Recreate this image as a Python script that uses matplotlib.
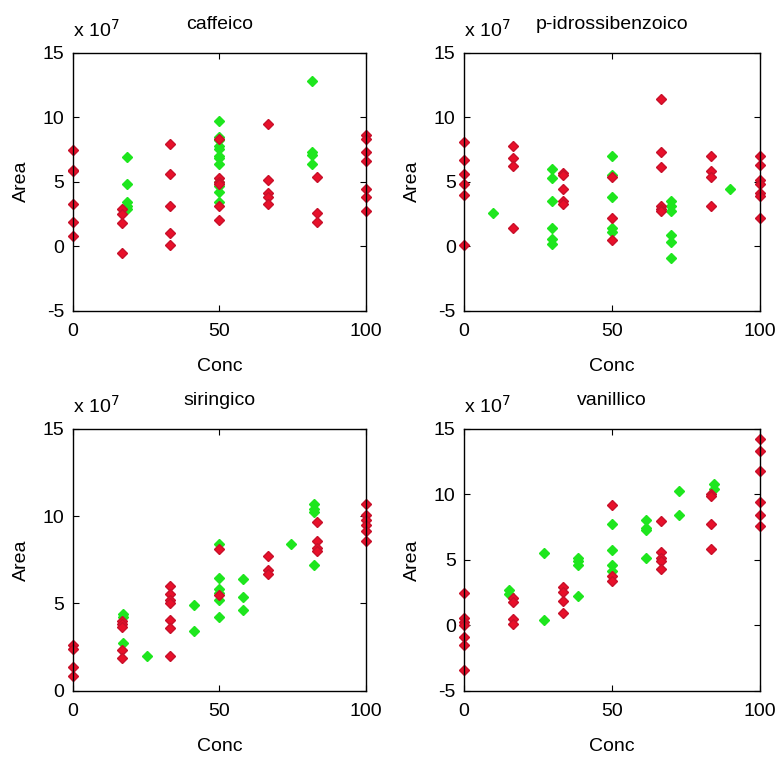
import numpy as np
import matplotlib
matplotlib.use("Agg")
import matplotlib.pyplot as plt

plt.rcParams['font.family'] = ['Liberation Sans', 'DejaVu Sans']
plt.rcParams['axes.unicode_minus'] = False

# valori di area (in unita' di 1e7) per ciascun acido, serie rossa e verde
titoli = ["caffeico", "p-idrossibenzoico", "siringico", "vanillico"]

caffeico_rosso_x = [0]*6 + [16.7]*4 + [33.3]*5 + [50]*6 + [66.7]*5 + [83.3]*3 + [100]*7
caffeico_rosso_y = [7.45, 5.9, 5.8, 3.3, 1.85, 0.8,
                    2.9, 2.5, 1.8, -0.5,
                    7.9, 5.6, 3.1, 1.0, 0.1,
                    8.3, 5.3, 5.0, 4.8, 3.1, 2.0,
                    9.5, 5.1, 4.1, 3.8, 3.3,
                    5.4, 2.6, 1.85,
                    8.6, 8.3, 7.3, 6.6, 4.4, 3.8, 2.75]
caffeico_verde_x = [18.6]*5 + [50]*12 + [81.7]*4
caffeico_verde_y = [6.9, 4.8, 3.4, 3.1, 2.85,
                    9.7, 8.5, 8.2, 7.8, 7.5, 7.0, 6.8, 6.4, 5.0, 4.7, 4.2, 3.4,
                    12.8, 7.3, 7.1, 6.4]

idross_rosso_x = [0]*6 + [16.7]*4 + [33.3]*5 + [50]*3 + [66.7]*6 + [83.3]*4 + [100]*7
idross_rosso_y = [8.1, 6.7, 5.6, 4.8, 4.0, 0.1,
                  7.8, 6.8, 6.2, 1.4,
                  5.7, 5.5, 4.4, 3.5, 3.3,
                  5.4, 2.2, 0.5,
                  11.4, 7.3, 6.1, 3.1, 2.9, 2.7,
                  7.0, 5.8, 5.4, 3.1,
                  7.0, 6.3, 5.1, 4.8, 4.1, 3.9, 2.2]
idross_verde_x = [9.7] + [29.9]*6 + [50]*5 + [69.8]*6 + [89.8]
idross_verde_y = [2.6,
                  6.0, 5.3, 3.5, 1.4, 0.55, 0.15,
                  7.0, 5.5, 3.8, 1.4, 1.1,
                  3.5, 3.1, 2.7, 0.85, 0.3, -0.9,
                  4.4]

siring_rosso_x = [0]*4 + [16.7]*5 + [33.3]*7 + [50]*2 + [66.7]*3 + [83.3]*4 + [100]*6
siring_rosso_y = [2.6, 2.4, 1.35, 0.83,
                  4.0, 3.8, 3.65, 2.3, 1.85,
                  6.0, 5.55, 5.2, 5.0, 4.05, 3.6, 2.0,
                  8.1, 5.5,
                  7.7, 6.9, 6.7,
                  9.65, 8.6, 8.15, 8.0,
                  10.7, 10.05, 9.8, 9.5, 9.15, 8.6]
siring_verde_x = [17]*3 + [25.4] + [41.4]*2 + [50]*6 + [58.2]*3 + [74.5] + [82.4]*4
siring_verde_y = [4.4, 4.2, 2.7,
                  2.0,
                  4.9, 3.4,
                  8.4, 6.45, 5.8, 5.6, 5.2, 4.2,
                  6.4, 5.35, 4.6,
                  8.4,
                  10.7, 10.4, 10.25, 7.2]

vanil_rosso_x = [0]*7 + [16.7]*4 + [33.3]*4 + [50]*3 + [66.7]*5 + [83.3]*4 + [100]*6
vanil_rosso_y = [2.45, 0.57, 0.23, 0.0, -0.9, -1.5, -3.4,
                 2.05, 1.75, 0.45, 0.1,
                 2.95, 2.5, 1.85, 0.95,
                 9.2, 3.75, 3.35,
                 7.95, 5.6, 5.15, 4.9, 4.3,
                 10.05, 9.85, 7.75, 5.85,
                 14.2, 13.35, 11.75, 9.4, 8.4, 7.6]
vanil_verde_x = [15.1]*2 + [27.2]*2 + [38.4]*4 + [50]*4 + [61.4]*4 + [72.7]*2 + [84.4]*2
vanil_verde_y = [2.65, 2.4,
                 5.55, 0.4,
                 5.15, 4.9, 4.6, 2.2,
                 7.75, 5.75, 4.6, 4.15,
                 8.05, 7.45, 7.3, 5.1,
                 10.25, 8.4,
                 10.8, 10.4]

serie = [
    (caffeico_rosso_x, caffeico_rosso_y, caffeico_verde_x, caffeico_verde_y),
    (idross_rosso_x, idross_rosso_y, idross_verde_x, idross_verde_y),
    (siring_rosso_x, siring_rosso_y, siring_verde_x, siring_verde_y),
    (vanil_rosso_x, vanil_rosso_y, vanil_verde_x, vanil_verde_y),
]
ylims = [(-5, 15), (-5, 15), (0, 15), (-5, 15)]

posizioni = [
    [0.0933, 0.5896, 0.3765, 0.3408],
    [0.5956, 0.5896, 0.3800, 0.3408],
    [0.0933, 0.0878, 0.3765, 0.3455],
    [0.5956, 0.0878, 0.3800, 0.3455],
]

ROSSO = '#e8102a'
VERDE = '#1ee61e'
FS = 14

fig = plt.figure(figsize=(7.79, 7.57), dpi=100)
for i in range(4):
    ax = fig.add_axes(posizioni[i])
    rx, ry, gx, gy = serie[i]
    ax.plot(gx, gy, 'D', color=VERDE, markersize=5.2, markeredgecolor=VERDE, clip_on=False)
    ax.plot(rx, ry, 'D', color=ROSSO, markersize=5.2, markeredgecolor='#c8102a', clip_on=False)
    ax.set_xlim(0, 100)
    ax.set_ylim(*ylims[i])
    ax.set_xticks([0, 50, 100])
    ax.set_yticks(np.arange(ylims[i][0], 16, 5))
    ax.tick_params(direction='in', top=True, right=True, length=4, width=0.8,
                   labelsize=FS)
    ax.tick_params(axis='x', pad=9)
    ax.tick_params(axis='y', pad=6)
    for s in ax.spines.values():
        s.set_linewidth(1.0)
    ax.set_xlabel("Conc", fontsize=FS, labelpad=13)
    ax.set_ylabel("Area", fontsize=FS, labelpad=9)
    ax.set_title(titoli[i], fontsize=FS, pad=17)
    ax.text(0.0, 1.045, r"x 10$^{7}$", transform=ax.transAxes, fontsize=FS,
            ha='left', va='bottom')

fig.savefig("out.png", dpi=100)
